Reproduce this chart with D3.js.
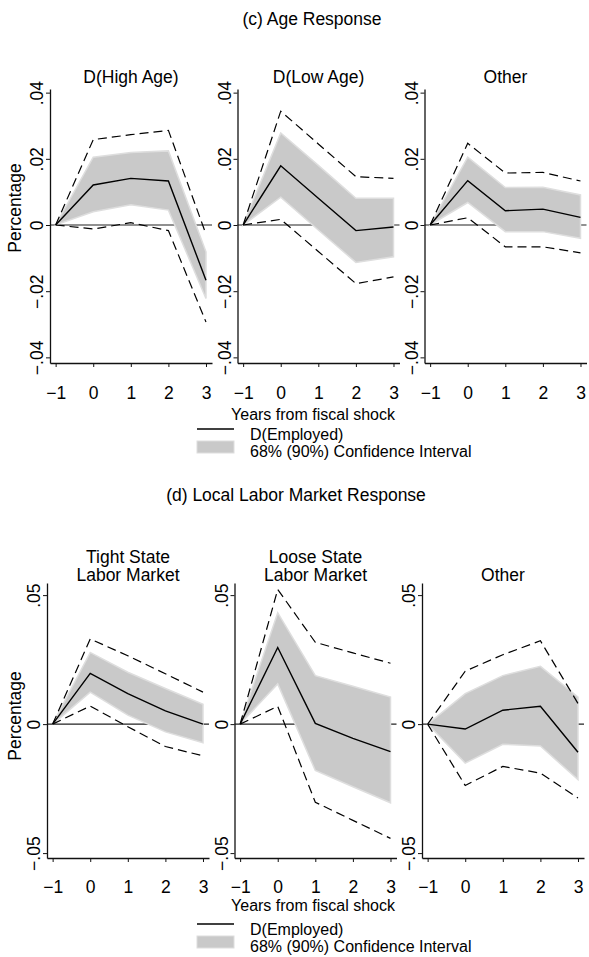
<!DOCTYPE html>
<html lang="en">
<head>
<meta charset="UTF-8">
<title>Fiscal shock responses</title>
<script src="https://cdn.jsdelivr.net/npm/d3@7"></script>
<style>
  * { margin: 0; padding: 0; }
  body { background: #fff; }
  svg text { font-family: "Liberation Sans", Arial, sans-serif; fill: #000; }
</style>
</head>
<body>
<div id="chart"></div>
<script>
// horizon (years from shock)
const years = [-1, 0, 1, 2, 3];

// (c) Age response
const ageTitles = [["D(High Age)"], ["D(Low Age)"], ["Other"]];
const ageMean = [
  [0, 0.0121, 0.0141, 0.0133, -0.0167],
  [0, 0.0179, 0.0081, -0.0017, -0.0006],
  [0, 0.0134, 0.0043, 0.0048, 0.0023]
];
const ageLo68 = [
  [0, 0.0040, 0.0061, 0.0045, -0.0222],
  [0, 0.0084, -0.0015, -0.0113, -0.0096],
  [0, 0.0068, -0.0020, -0.0020, -0.0040]
];
const ageHi68 = [
  [0, 0.0205, 0.0219, 0.0224, -0.0081],
  [0, 0.0278, 0.0180, 0.0081, 0.0081],
  [0, 0.0205, 0.0113, 0.0114, 0.0091]
];
const ageLo90 = [
  [0, -0.0012, 0.0007, -0.0017, -0.0293],
  [0, 0.0017, -0.0080, -0.0177, -0.0157],
  [0, 0.0022, -0.0066, -0.0066, -0.0084]
];
const ageHi90 = [
  [0, 0.0258, 0.0273, 0.0286, -0.0028],
  [0, 0.0344, 0.0245, 0.0146, 0.0141],
  [0, 0.0247, 0.0157, 0.0159, 0.0133]
];
const ageTicks = [-0.04, -0.02, 0, 0.02, 0.04];

// (d) Local labor market response
const labTitles = [["Tight State", "Labor Market"], ["Loose State", "Labor Market"], ["Other"]];
const labMean = [
  [0, 0.0197, 0.0118, 0.0051, 0.0000],
  [0, 0.0297, 0.0003, -0.0055, -0.0107],
  [0, -0.0019, 0.0054, 0.0069, -0.0109]
];
const labLo68 = [
  [0, 0.0124, 0.0035, -0.0030, -0.0072],
  [0, 0.0156, -0.0180, -0.0243, -0.0305],
  [0, -0.0151, -0.0078, -0.0085, -0.0215]
];
const labHi68 = [
  [0, 0.0278, 0.0201, 0.0138, 0.0077],
  [0, 0.0432, 0.0188, 0.0147, 0.0105],
  [0, 0.0118, 0.0188, 0.0224, 0.0105]
];
const labLo90 = [
  [0, 0.0070, -0.0010, -0.0087, -0.0123],
  [0, 0.0069, -0.0303, -0.0373, -0.0443],
  [0, -0.0238, -0.0164, -0.0190, -0.0286]
];
const labHi90 = [
  [0, 0.0330, 0.0265, 0.0195, 0.0124],
  [0, 0.0522, 0.0317, 0.0276, 0.0236],
  [0, 0.0205, 0.0269, 0.0323, 0.0080]
];
const labTicks = [-0.05, 0, 0.05];

const W = 589, H = 957;
const panelW = 162;
const fs = 17.5;      // panel titles, ticks
const fsSmall = 16;   // x title, legend

const svg = d3.select('#chart').append('svg')
  .attr('width', W).attr('height', H);

// stata style tick text: .04, -.02, 0
const fmt = v => v === 0 ? '0' : d3.format('.2f')(v).replace('0.', '.');

function drawRow(cfg) {
  svg.append('text')
    .attr('x', cfg.titleX).attr('y', cfg.titleY)
    .attr('text-anchor', 'middle').attr('font-size', 17.5)
    .text(cfg.title);

  cfg.axisX.forEach((ax, p) => {
    const x = d3.scaleLinear().domain([-1.15, 3.16]).range([ax, ax + panelW]);
    const y = d3.scaleLinear().domain(cfg.yDomain).range([cfg.yBot, cfg.yTop]);
    const g = svg.append('g');

    // panel title (one or two lines)
    const tl = cfg.titles[p];
    tl.forEach((t, i) => {
      g.append('text')
        .attr('x', ax + panelW / 2)
        .attr('y', cfg.subBase - (tl.length - 1 - i) * 18.5)
        .attr('text-anchor', 'middle').attr('font-size', fs)
        .text(t);
    });

    // zero line
    g.append('line')
      .attr('x1', x(-1.15)).attr('x2', x(3.16))
      .attr('y1', y(0)).attr('y2', y(0))
      .attr('stroke', '#222').attr('stroke-width', 1.2);

    const pts = arr => years.map((yr, k) => ({ yr, v: arr[k] }));

    // 68% band
    const band = years.map((yr, k) => ({ yr, lo: cfg.lo68[p][k], hi: cfg.hi68[p][k] }));
    g.append('path')
      .datum(band)
      .attr('d', d3.area().x(d => x(d.yr)).y0(d => y(d.lo)).y1(d => y(d.hi)))
      .attr('fill', '#c9c9c9')
      .attr('stroke', '#dedede').attr('stroke-width', 1.5);

    const line = d3.line().x(d => x(d.yr)).y(d => y(d.v));

    // 90% bounds
    [cfg.lo90[p], cfg.hi90[p]].forEach(arr => {
      g.append('path')
        .datum(pts(arr))
        .attr('d', line)
        .attr('fill', 'none').attr('stroke', '#000')
        .attr('stroke-width', 1.2).attr('stroke-dasharray', '9,5');
    });

    // point estimate
    g.append('path')
      .datum(pts(cfg.mean[p]))
      .attr('d', line)
      .attr('fill', 'none').attr('stroke', '#000').attr('stroke-width', 1.4);

    // y axis
    const yAxisG = g.append('g')
      .attr('transform', `translate(${ax},0)`)
      .call(d3.axisLeft(y).tickValues(cfg.ticks).tickFormat(fmt).tickSize(4).tickSizeOuter(0));
    yAxisG.select('.domain').attr('stroke', '#111').attr('stroke-width', 1.3);
    yAxisG.selectAll('.tick line').attr('stroke', '#111');
    yAxisG.selectAll('.tick text')
      .attr('transform', 'rotate(-90)')
      .attr('x', 0).attr('y', -7).attr('dy', null)
      .attr('text-anchor', 'middle')
      .attr('font-size', fs).attr('font-family', null).attr('fill', '#000');

    // x axis
    const xAxisG = g.append('g')
      .attr('transform', `translate(0,${cfg.yBot})`)
      .call(d3.axisBottom(x).tickValues(years).tickFormat(d3.format('d'))
        .tickSize(4).tickSizeOuter(0).tickPadding(cfg.tickPad));
    xAxisG.select('.domain').attr('stroke', '#111').attr('stroke-width', 1.3);
    xAxisG.selectAll('.tick line').attr('stroke', '#111');
    xAxisG.selectAll('.tick text')
      .attr('font-size', fs).attr('font-family', null).attr('fill', '#000');

    if (p === 0) {
      g.append('text')
        .attr('transform', `translate(21,${cfg.ytitleY}) rotate(-90)`)
        .attr('text-anchor', 'middle').attr('font-size', fs)
        .text('Percentage');
    }
  });

  // x title
  svg.append('text')
    .attr('x', 313).attr('y', cfg.yBot + cfg.xtitleGap)
    .attr('text-anchor', 'middle').attr('font-size', fsSmall)
    .text('Years from fiscal shock');

  // legend
  const lg = svg.append('g').attr('transform', `translate(197,${cfg.yBot + cfg.legendGap})`);
  lg.append('line')
    .attr('x1', 0).attr('x2', 37).attr('y1', 0).attr('y2', 0)
    .attr('stroke', '#000').attr('stroke-width', 1.3);
  lg.append('rect')
    .attr('x', 0).attr('y', 12).attr('width', 37).attr('height', 12)
    .attr('fill', '#c9c9c9').attr('stroke', '#dedede');
  lg.append('text').attr('x', 53).attr('y', 11).attr('font-size', fsSmall).text('D(Employed)');
  lg.append('text').attr('x', 53).attr('y', 28).attr('font-size', fsSmall).text('68% (90%) Confidence Interval');
}

drawRow({
  title: '(c) Age Response', titleX: 312, titleY: 25,
  titles: ageTitles, subBase: 83,
  axisX: [50, 237.5, 424.5],
  yTop: 89, yBot: 363, yDomain: [-0.0417, 0.0411], ticks: ageTicks,
  ytitleY: 208, tickPad: 20, xtitleGap: 57, legendGap: 66,
  mean: ageMean, lo68: ageLo68, hi68: ageHi68, lo90: ageLo90, hi90: ageHi90
});

drawRow({
  title: '(d) Local Labor Market Response', titleX: 296, titleY: 501,
  titles: labTitles, subBase: 581,
  axisX: [47, 234.5, 422],
  yTop: 583, yBot: 858, yDomain: [-0.0519, 0.0547], ticks: labTicks,
  ytitleY: 716, tickPad: 19, xtitleGap: 53, legendGap: 66,
  mean: labMean, lo68: labLo68, hi68: labHi68, lo90: labLo90, hi90: labHi90
});
</script>
</body>
</html>
